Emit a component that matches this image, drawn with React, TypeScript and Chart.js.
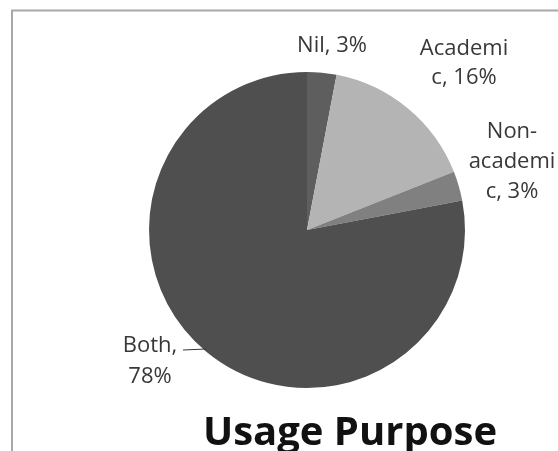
import React, { useEffect, useRef } from "react";
import { Chart, registerables } from "chart.js";

Chart.register(...registerables);

const categories = ["Nil", "Academic", "Non-academic", "Both"];
const values = [3, 16, 3, 78];
const colors = ["#5e5e5e", "#b4b4b4", "#808080", "#4f4f4f"];
// Wrapped label text as shown on the chart
const labelLines = [["Nil, 3%"], ["Academi", "c, 16%"], ["Non-", "academi", "c, 3%"], ["Both,", "78%"]];
const title = "Usage Purpose";

// label anchor offsets from pie centre (centre x of text, baseline of first line)
const labelOffsets = [
  { dx: 25, dy: -178, lh: 29 },
  { dx: 157, dy: -175, lh: 29 },
  { dx: 205, dy: -92, lh: 30 },
  { dx: -157, dy: 122, lh: 31 },
];

const overlayPlugin = {
  id: "overlay",
  afterDraw(chart: any) {
    const ctx = chart.ctx as CanvasRenderingContext2D;
    const meta = chart.getDatasetMeta(0);
    const arc = meta.data[0] as any;
    const cx = arc.x;
    const cy = arc.y;
    const r = arc.outerRadius;
    ctx.save();
    // outer frame
    ctx.strokeStyle = "#a8a8a8";
    ctx.lineWidth = 2;
    ctx.strokeRect(12, 10.5, 700, 600);
    // labels
    ctx.fillStyle = "#383838";
    ctx.font = "22px 'Open Sans'";
    ctx.textAlign = "center";
    ctx.textBaseline = "alphabetic";
    labelLines.forEach((lines, i) => {
      const o = labelOffsets[i];
      lines.forEach((t, j) => {
        ctx.fillText(t, cx + o.dx, cy + o.dy + j * o.lh);
      });
    });
    // leader line for "Both"
    const ly = cy + 120;
    const ex = cx - Math.sqrt(r * r - 120 * 120);
    ctx.strokeStyle = "#383838";
    ctx.lineWidth = 1.2;
    ctx.beginPath();
    ctx.moveTo(cx - 124, ly);
    ctx.lineTo(ex + 2, ly - 1);
    ctx.stroke();
    // title
    ctx.fillStyle = "#111111";
    ctx.font = "bold 40px 'Open Sans'";
    ctx.fillText(title, 350, 445);
    ctx.restore();
  },
};

export default function App() {
  const ref = useRef<HTMLCanvasElement | null>(null);
  useEffect(() => {
    if (!ref.current) return;
    const chart = new Chart(ref.current, {
      type: "pie",
      data: {
        labels: categories,
        datasets: [
          {
            data: values,
            backgroundColor: colors,
            borderWidth: 0,
          },
        ],
      },
      options: {
        animation: false,
        responsive: false,
        maintainAspectRatio: false,
        layout: { padding: { left: 149, right: 93, top: 72, bottom: 63 } },
        plugins: {
          legend: { display: false },
          tooltip: { enabled: false },
          title: { display: false },
        },
      },
      plugins: [overlayPlugin],
    });
    return () => chart.destroy();
  }, []);
  return (
    <div style={{ position: "absolute", left: 0, top: 0, width: 558, height: 451, background: "#ffffff" }}>
      <canvas ref={ref} width={558} height={451} style={{ display: "block" }} />
    </div>
  );
}
